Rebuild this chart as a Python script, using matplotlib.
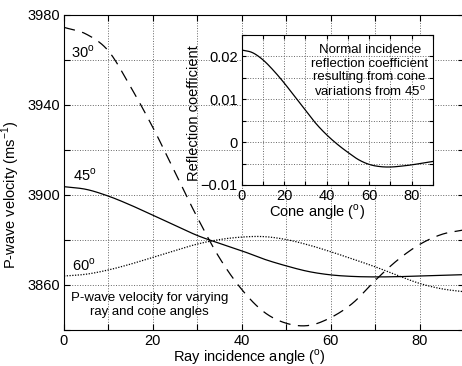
import numpy as np
import matplotlib
matplotlib.use("Agg")
import matplotlib.pyplot as plt
from matplotlib.ticker import MultipleLocator, FuncFormatter

plt.rcParams["font.family"] = ["Liberation Sans", "DejaVu Sans"]
plt.rcParams["mathtext.fontset"] = "custom"
plt.rcParams["mathtext.rm"] = "Liberation Sans"
plt.rcParams["font.size"] = 10

# ray incidence angle (deg)
ray = [0, 5, 10, 15, 20, 25, 30, 35, 40, 45, 50, 55, 60, 65, 70, 75, 80, 85, 90]
# P-wave velocity for cone angles 30, 45, 60 deg
v30 = [3974.5, 3971.5, 3964, 3948, 3930, 3910, 3890, 3872, 3858, 3848, 3843,
       3842, 3845.5, 3852, 3862, 3871, 3878, 3882.5, 3884.5]
v45 = [3903.7, 3902.5, 3899.5, 3895.5, 3891, 3886.5, 3882, 3878.5, 3875.2, 3871.5,
       3868.5, 3866, 3864.5, 3863.8, 3863.6, 3863.7, 3864, 3864.3, 3864.6]
v60 = [3864, 3864.8, 3866.7, 3869.3, 3872.3, 3875.3, 3878.2, 3880.2, 3881.3, 3881.5,
       3880.2, 3877.8, 3874.8, 3871.5, 3868.1, 3864.3, 3860.7, 3858.3, 3857]

# cone angle (deg) and normal incidence reflection coefficient
cone = [0, 5, 10, 15, 20, 25, 30, 35, 40, 45, 50, 55, 60, 65, 70, 75, 80, 85, 90]
refl = [0.0215, 0.0209, 0.0192, 0.0167, 0.0138, 0.0106, 0.0074, 0.0043, 0.0017,
        -0.0005, -0.0024, -0.0041, -0.0052, -0.0057, -0.0058, -0.0056, -0.0053,
        -0.0049, -0.0045]

# tick labels shown (ticks in between are unlabelled)
ray_labels = [0, 20, 40, 60, 80]
vel_labels = [3860, 3900, 3940, 3980]
cone_labels = [0, 20, 40, 60, 80]
refl_labels = [-0.01, 0, 0.01, 0.02]


def smooth(x, y):
    # cubic hermite through the read points
    xs = np.linspace(x[0], x[-1], 361)
    x = np.asarray(x, float)
    y = np.asarray(y, float)
    m = np.gradient(y, x)
    out = []
    for xv in xs:
        i = min(np.searchsorted(x, xv, side="right") - 1, len(x) - 2)
        h = x[i + 1] - x[i]
        t = (xv - x[i]) / h
        h00 = 2 * t**3 - 3 * t**2 + 1
        h10 = t**3 - 2 * t**2 + t
        h01 = -2 * t**3 + 3 * t**2
        h11 = t**3 - t**2
        out.append(h00 * y[i] + h10 * h * m[i] + h01 * y[i + 1] + h11 * h * m[i + 1])
    return xs, np.array(out)


def only(labels):
    def f(v, pos):
        for l in labels:
            if abs(v - l) < 1e-9:
                return ("%g" % l).replace("-", "\u2212")
        return ""
    return FuncFormatter(f)


fig = plt.figure(figsize=(4.62, 3.66), dpi=100)
ax = fig.add_axes([64 / 462, 36 / 366, 400 / 462, 315 / 366])

x, y = smooth(ray, v30)
ax.plot(x, y, color="k", lw=0.9, dashes=(9, 6))
x, y = smooth(ray, v45)
ax.plot(x, y, color="k", lw=0.9)
x, y = smooth(ray, v60)
ax.plot(x, y, color="k", lw=0.9, ls=(0, (1, 1.2)))

ax.set_xlim(0, 90)
ax.set_ylim(3840, 3980)
ax.xaxis.set_major_locator(MultipleLocator(10))
ax.yaxis.set_major_locator(MultipleLocator(20))
ax.xaxis.set_major_formatter(only(ray_labels))
ax.yaxis.set_major_formatter(only(vel_labels))
ax.tick_params(direction="in", top=True, right=True, length=4, labelsize=10.5, pad=3)
ax.grid(True, ls=":", color="0.4", lw=0.7)
ax.set_xlabel("Ray incidence angle ($^\\mathrm{o}$)", fontsize=10.5)
ax.set_ylabel("P-wave velocity (ms$^\\mathrm{-1}$)", fontsize=10.5)
ax.xaxis.set_label_coords(0.4625, -0.055)
ax.yaxis.set_label_coords(-0.105, 0.43)

ax.text(4.2, 3963.6, "30$^\\mathrm{o}$", ha="center", va="center", fontsize=10.5)
ax.text(4.7, 3908.9, "45$^\\mathrm{o}$", ha="center", va="center", fontsize=10.5)
ax.text(4.5, 3868.9, "60$^\\mathrm{o}$", ha="center", va="center", fontsize=10.5)
ax.text(19.3, 3851.1, "P-wave velocity for varying\nray and cone angles",
        ha="center", va="center", fontsize=9.5, linespacing=1.15)

ins = fig.add_axes([241.7 / 462, 181 / 366, 191.3 / 462, 150 / 366])
x, y = smooth(cone, refl)
ins.plot(x, y, color="k", lw=0.9)
ins.set_xlim(0, 90)
ins.set_ylim(-0.01, 0.025)
ins.xaxis.set_major_locator(MultipleLocator(10))
ins.yaxis.set_major_locator(MultipleLocator(0.005))
ins.xaxis.set_major_formatter(only(cone_labels))
ins.yaxis.set_major_formatter(only(refl_labels))
ins.tick_params(direction="in", top=True, right=True, length=3, labelsize=10.5, pad=3)
ins.grid(True, ls=":", color="0.4", lw=0.7)
ins.set_xlabel("Cone angle ($^\\mathrm{o}$)", fontsize=10.5)
ins.set_ylabel("Reflection coefficient", fontsize=10.5)
ins.xaxis.set_label_coords(0.394, -0.115)
ins.yaxis.set_label_coords(-0.215, 0.48)
ins.text(60.2, 0.0165, "Normal incidence\nreflection coefficient\nresulting from cone\nvariations from 45$^\\mathrm{o}$",
         ha="center", va="center", fontsize=9.5, linespacing=1.15)

fig.savefig("out.png", dpi=100)
